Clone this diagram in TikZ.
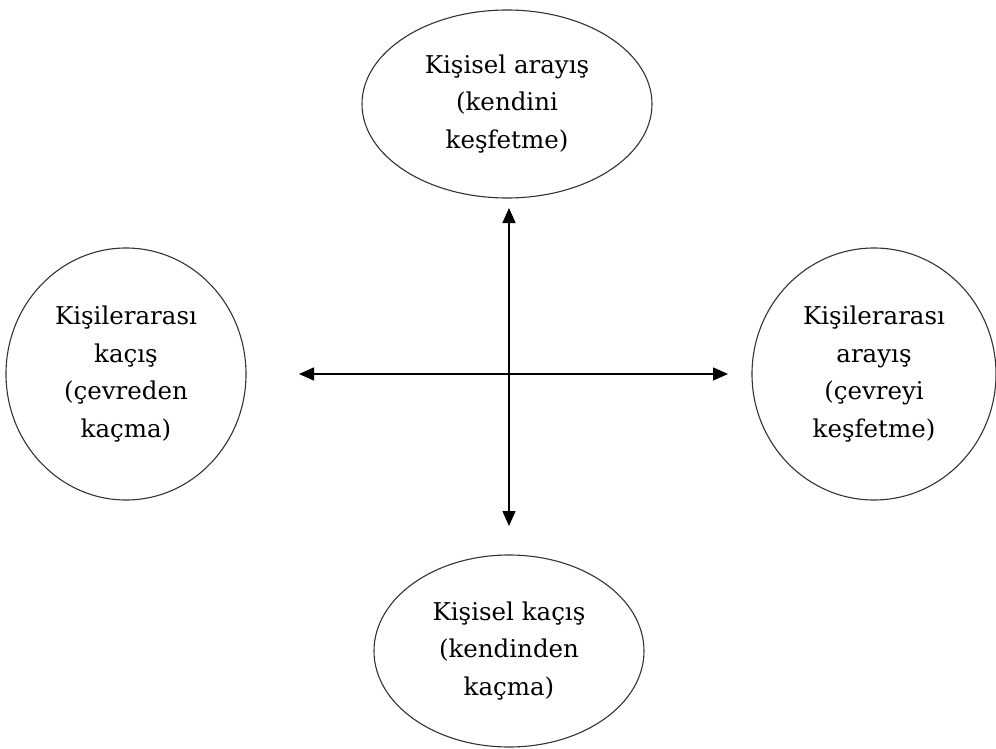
\documentclass[tikz,border=0pt]{standalone}
\usepackage{fontspec}
\setmainfont{DejaVu Serif}
\usetikzlibrary{shapes.geometric}
\usetikzlibrary{arrows.meta}
\usetikzlibrary{positioning}

\begin{document}
\begin{tikzpicture}[x=1pt,y=-1pt,font=\fontsize{24.5}{37.5}\selectfont,
  goal/.style={draw,shape=ellipse,line width=1.1pt,color=black!80,text=black,align=center,inner sep=0pt},
  axis/.style={line width=1.4pt,{Triangle[length=15pt,width=13pt]}-{Triangle[length=15pt,width=13pt]}}]
\useasboundingbox (0,0) rectangle (996,749);
\path (507,104) node(top_0) [goal,minimum width=290pt,minimum height=188pt] {Kişisel arayış\\(kendini\\keşfetme)};
\path (126,374) node(left_0) [goal,minimum width=240pt,minimum height=252pt] {Kişilerarası\\kaçış\\(çevreden\\kaçma)};
\path (874,374) node(right_0) [goal,minimum width=244pt,minimum height=252pt] {Kişilerarası\\arayış\\(çevreyi\\keşfetme)};
\path (509,651) node(bottom_0) [goal,minimum width=270pt,minimum height=192pt] {Kişisel kaçış\\(kendinden\\kaçma)};
\coordinate (n_0) at (509,208);
\coordinate (s_0) at (509,526);
\coordinate (w_0) at (299,374);
\coordinate (e_0) at (728,374);
\draw[axis] (n_0) -- (s_0);
\draw[axis] (w_0) -- (e_0);
\end{tikzpicture}
\end{document}
